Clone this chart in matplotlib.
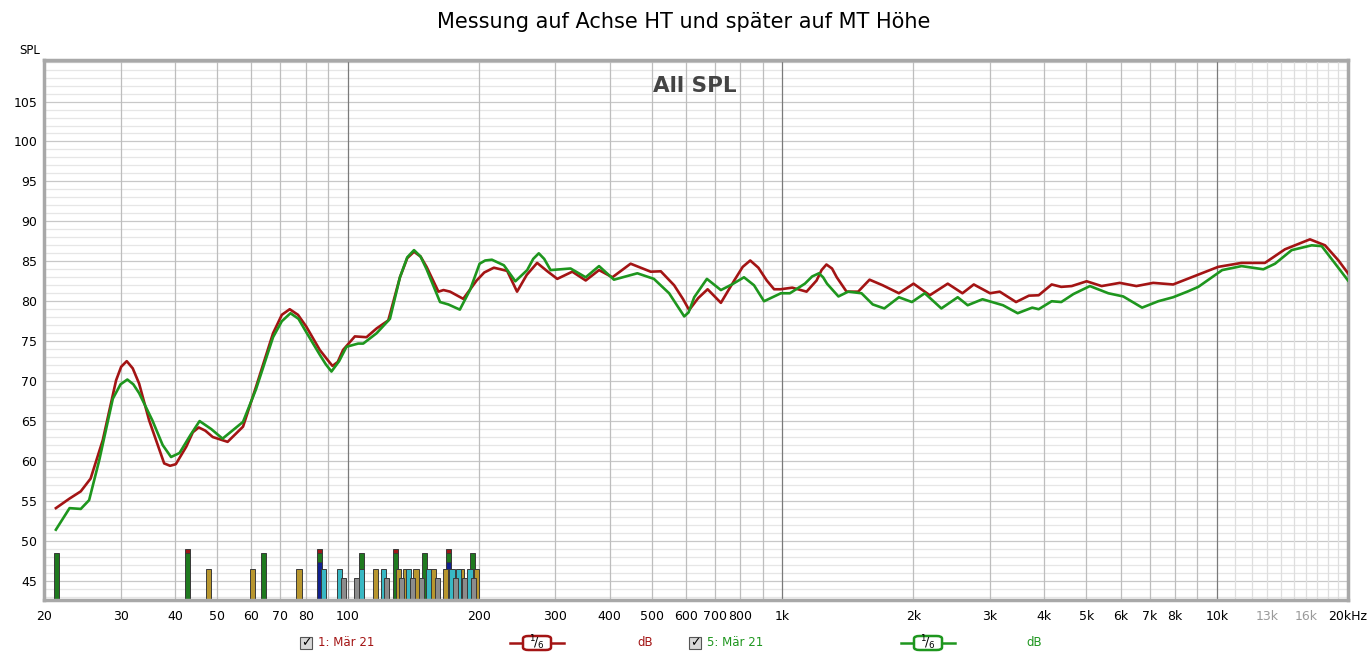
import numpy as np
import matplotlib
matplotlib.use("Agg")
import matplotlib.pyplot as plt
from matplotlib.patches import FancyBboxPatch, Rectangle
from matplotlib.lines import Line2D

red_f = [21.3, 22.9, 24.3, 25.6, 27.3, 29.3, 30.1, 31.0, 32.0, 33.1, 34.9, 37.8, 39.0, 40.2,
         42.5, 44.0, 45.4, 47.0, 48.9, 52.9, 57.4, 61.5, 67.3, 70.5, 73.5, 76.8, 80.3, 86.2,
         90, 92.2, 94.8, 97.5, 103.8, 110.4, 116.5, 123.9, 131.8, 137, 142, 147, 151.8,
         161.6, 166, 171.9, 184.3, 197.9, 206, 216.8, 232.6, 245.1, 258, 272.6, 287, 303.3,
         328.4, 352.6, 378.4, 406.1, 447.3, 497.5, 524.8, 563.3, 590, 610, 640, 672.6, 721.6,
         774.5, 810, 842.9, 880, 920, 956.6, 990, 1053, 1136, 1198, 1230, 1262, 1300, 1333,
         1404, 1493, 1586, 1700, 1853, 2002, 2182, 2400, 2594, 2755, 3003, 3161, 3446, 3690,
         3885, 4162, 4379, 4628, 5009, 5423, 5970, 6520, 7125, 7920, 8730, 10050, 11380,
         12880, 14320, 16350, 17710, 19020, 20000]
red_db = [54.1, 55.3, 56.2, 57.8, 62.6, 70.1, 71.8, 72.5, 71.6, 69.7, 65.1, 59.7, 59.4, 59.6,
          61.8, 63.6, 64.2, 63.8, 63.0, 62.4, 64.3, 69.3, 76.0, 78.3, 79.0, 78.3, 76.8, 73.9,
          72.6, 71.9, 72.4, 73.9, 75.6, 75.5, 76.6, 77.6, 83.0, 85.4, 86.2, 85.6, 84.3,
          81.2, 81.4, 81.2, 80.3, 82.6, 83.6, 84.2, 83.8, 81.2, 83.3, 84.8, 83.8, 82.8,
          83.7, 82.6, 83.9, 83.0, 84.7, 83.7, 83.75, 82.0, 80.3, 78.9, 80.4, 81.5, 79.8,
          82.6, 84.3, 85.1, 84.2, 82.6, 81.5, 81.5, 81.7, 81.2, 82.6, 83.9, 84.6, 84.1, 83.0,
          81.2, 81.2, 82.7, 82.0, 81.0, 82.2, 80.75, 82.2, 81.0, 82.1, 81.0, 81.2, 79.9, 80.7,
          80.75, 82.1, 81.8, 81.9, 82.5, 81.9, 82.3, 81.9, 82.3, 82.1, 83.0, 84.3, 84.8,
          84.8, 86.5, 87.75, 87.0, 85.1, 83.5]

green_f = [21.3, 22.9, 24.3, 25.4, 26.8, 28.8, 30.0, 31.1, 32.1, 33.1, 35.5, 37.5, 39.2, 41.0,
           43.5, 45.6, 48.5, 51.5, 57.4, 61.5, 67.3, 70.5, 73.8, 77, 80.3, 86.2, 89, 91.7, 95.5,
           99.3, 105.6, 108.5, 116.5, 125, 131.8, 137, 142, 147, 151.8, 163, 170.3, 181, 191,
           201, 207, 214.5, 228.6, 242.9, 258.6, 267, 275, 283, 292.7, 325.4, 352.6, 378.4,
           409.5, 463.5, 506, 548.5, 594.2, 608, 626.5, 670, 721.6, 765, 815.5, 860, 907,
           991.6, 1040, 1126, 1170, 1213, 1240, 1266, 1345, 1416, 1520, 1613, 1715, 1853,
           1985, 2125, 2320, 2530, 2667, 2885, 3216, 3476, 3754, 3885, 4162, 4379, 4670, 5096,
           5618, 6080, 6720, 7320, 7920, 8580, 9050, 10270, 11380, 12770, 13590, 14840, 16500,
           17400, 18690, 20000]
green_db = [51.4, 54.1, 54.0, 55.1, 60.1, 67.8, 69.6, 70.2, 69.6, 68.5, 65.1, 62.0, 60.5, 61.0,
            63.3, 65.0, 64.0, 62.8, 64.9, 69.0, 75.5, 77.5, 78.5, 77.8, 76.1, 73.3, 72.1, 71.2,
            72.5, 74.3, 74.7, 74.7, 76.0, 77.8, 83.0, 85.5, 86.4, 85.6, 84.0, 79.9, 79.6, 78.95,
            81.4, 84.7, 85.1, 85.2, 84.5, 82.5, 83.9, 85.3, 86.0, 85.3, 83.9, 84.1, 83.0, 84.4,
            82.7, 83.5, 82.8, 81.0, 78.1, 78.6, 80.5, 82.8, 81.4, 82.1, 83.0, 82.0, 80.0,
            81.0, 81.0, 82.2, 83.1, 83.5, 83.0, 82.2, 80.6, 81.2, 81.0, 79.6, 79.1, 80.5,
            79.9, 81.0, 79.1, 80.5, 79.5, 80.25, 79.5, 78.5, 79.2, 79.0, 80.0, 79.9, 80.9, 81.9,
            81.0, 80.6, 79.2, 80.0, 80.5, 81.25, 81.8, 83.9, 84.4, 84.0, 84.7, 86.4, 87.0,
            86.9, 84.7, 82.6]

# marker bars at the bottom
bar_green = [21.4, 42.8, 64.1, 85.9, 107.3, 128.6, 150.3, 170.7, 193.2]
bar_red = [42.8, 85.9, 128.6, 170.7]
bar_blue = [85.9, 170.7]
bar_gold = [47.8, 60.5, 77.2, 115.6, 130.6, 136, 143.5, 157, 167.7, 182.5, 198]
bar_cyan = [88, 95.8, 107.3, 121, 138, 153, 173.7, 180, 191]
bar_gray = [97.9, 104.7, 123, 133, 141, 148, 160.7, 177, 186, 195]

xtick_vals = [20, 30, 40, 50, 60, 70, 80, 100, 200, 300, 400, 500, 600, 700, 800,
              1000, 2000, 3000, 4000, 5000, 6000, 7000, 8000, 10000, 13000, 16000, 20000]
xtick_txt = ["20", "30", "40", "50", "60", "70", "80", "100", "200", "300", "400", "500",
             "600", "700", "800", "1k", "2k", "3k", "4k", "5k", "6k", "7k", "8k", "10k",
             "13k", "16k", "20kHz"]
ytick_vals = [45, 50, 55, 60, 65, 70, 75, 80, 85, 90, 95, 100, 105]

RED = "#a31414"
GREEN = "#1e961e"
BOTTOM = 42.6

fig = plt.figure(figsize=(13.69, 6.58), dpi=100)
ax = fig.add_axes([44 / 1369, 1 - 600 / 658, (1348 - 44) / 1369, (600 - 60) / 658])
ax.set_xscale("log")
ax.set_xlim(20, 20000)
ax.set_ylim(BOTTOM, 110.2)

# grid
for d in range(43, 111):
    ax.axhline(d, color="#c8c8c8" if d % 5 == 0 else "#e6e6e6", lw=0.9, zorder=0)
for dec in [10, 100, 1000]:
    for m in range(2, 11):
        f = dec * m
        if f < 20:
            continue
        c = "#7a7a7a" if m == 10 and f < 20000 else "#bdbdbd"
        ax.axvline(f, color=c, lw=0.9, zorder=0)
for f in range(11000, 20000, 1000):
    ax.axvline(f, color="#dedede", lw=0.9, zorder=0)

# bars
def bars(freqs, top, color):
    f = np.array(freqs)
    ax.bar(f, top - BOTTOM, width=f * 0.027, bottom=BOTTOM, color=color,
           edgecolor="#3a3a3a", linewidth=0.7, zorder=2)

bars(bar_red, 49.0, "#a01818")
bars(bar_green, 48.5, "#1f7a1f")
bars(bar_blue, 47.3, "#10208f")
bars(bar_gold, 46.5, "#b8962e")
bars(bar_cyan, 46.5, "#38b8c4")
bars(bar_gray, 45.3, "#8c8c8c")

ax.plot(red_f, red_db, color=RED, lw=1.9, zorder=3, solid_joinstyle="round")
ax.plot(green_f, green_db, color=GREEN, lw=1.9, zorder=4, solid_joinstyle="round")

ax.set_xticks(xtick_vals)
ax.set_xticklabels(xtick_txt)
ax.minorticks_off()
for lab, v in zip(ax.get_xticklabels(), xtick_vals):
    if v in (13000, 16000):
        lab.set_color("#9a9a9a")
ax.set_yticks(ytick_vals)
ax.tick_params(axis="both", length=0, labelsize=9)
ax.tick_params(axis="x", pad=7)
ax.tick_params(axis="y", pad=5)
for s in ax.spines.values():
    s.set_color("#a8a8a8")
    s.set_linewidth(2.5)

fig.text(30 / 1369, 1 - 50 / 658, "SPL", fontsize=8.5, ha="center", va="center")
fig.text(684 / 1369, 1 - 22 / 658, "Messung auf Achse HT und später auf MT Höhe",
         fontsize=15, ha="center", va="center")
ax.text(0.499, 0.97, "All SPL", transform=ax.transAxes, fontsize=15.5, fontweight="bold",
        color="#444444", ha="center", va="top")

# legend row
def px(x, y):
    return x / 1369, 1 - y / 658

def checkbox(x, y):
    bx, by = px(x - 6, y + 6)
    fig.patches.append(Rectangle((bx, by), 12 / 1369, 12 / 658, transform=fig.transFigure,
                                 facecolor="#d8d8d8", edgecolor="#555555", lw=0.8))
    fig.text(*px(x, y), "✓", fontsize=9, fontweight="bold", ha="center", va="center")

def smooth_box(x, y, color):
    fig.add_artist(Line2D([(x - 27) / 1369, (x + 27) / 1369], [1 - y / 658] * 2,
                          color=color, lw=1.8, transform=fig.transFigure))
    bx, by = px(x - 14, y + 7)
    fig.patches.append(FancyBboxPatch((bx, by), 28 / 1369, 14 / 658,
                                      boxstyle="round,pad=0,rounding_size=0.004",
                                      transform=fig.transFigure, facecolor="white",
                                      edgecolor=color, lw=1.8, zorder=5))
    fig.text(*px(x, y), r"$^1\!/_6$", fontsize=9, ha="center", va="center", zorder=6)

checkbox(306, 643)
fig.text(*px(318, 643), "1: Mär 21", color=RED, fontsize=8.5, ha="left", va="center")
smooth_box(537, 643, RED)
fig.text(*px(645, 643), "dB", color=RED, fontsize=8.5, ha="center", va="center")
checkbox(695, 643)
fig.text(*px(707, 643), "5: Mär 21", color=GREEN, fontsize=8.5, ha="left", va="center")
smooth_box(928, 643, GREEN)
fig.text(*px(1034, 643), "dB", color=GREEN, fontsize=8.5, ha="center", va="center")

fig.savefig("out.png", dpi=100)
